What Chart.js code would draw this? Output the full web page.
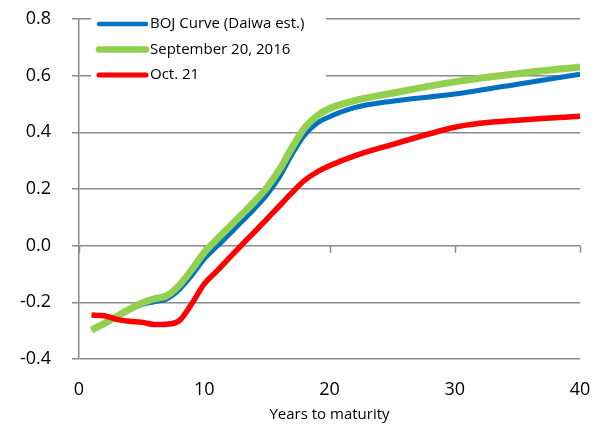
<!DOCTYPE html>
<html>
<head>
<meta charset="utf-8">
<script src="https://cdn.jsdelivr.net/npm/chart.js@4/dist/chart.umd.min.js"></script>
<style>
  html, body { margin: 0; padding: 0; background: #fff; }
  #wrap { width: 603px; height: 425px; position: relative; }
</style>
</head>
<body>
<div id="wrap"><canvas id="c"></canvas></div>
<script>
// JGB yield curves, % by years to maturity
const seriesLabels = ['BOJ Curve (Daiwa est.)', 'September 20, 2016', 'Oct. 21'];

const bojYears = [1, 2, 3, 4, 5, 6, 7, 8, 9, 10, 11, 12, 13, 14, 15, 16, 17, 18, 19, 20, 22, 25, 30, 35, 40];
const bojCurve = [-0.297, -0.275, -0.25, -0.227, -0.208, -0.198, -0.188, -0.155, -0.105, -0.047, -0.003, 0.04, 0.085, 0.13, 0.18, 0.243, 0.322, 0.39, 0.432, 0.455, 0.487, 0.51, 0.535, 0.57, 0.605];

const sep20Years = [1, 2, 3, 4, 5, 6, 7, 8, 9, 10, 11, 12, 13, 14, 15, 16, 17, 18, 19, 20, 22, 25, 30, 35, 40];
const sep20Curve = [-0.298, -0.275, -0.25, -0.225, -0.203, -0.188, -0.177, -0.14, -0.085, -0.024, 0.022, 0.066, 0.11, 0.155, 0.205, 0.268, 0.345, 0.415, 0.458, 0.484, 0.512, 0.538, 0.578, 0.607, 0.631];

const oct21Years = [1, 2, 3, 4, 5, 6, 7, 8, 9, 10, 11, 12, 13, 14, 15, 16, 17, 18, 19, 20, 22, 25, 28, 30, 32, 35, 40];
const oct21Curve = [-0.245, -0.247, -0.26, -0.267, -0.27, -0.278, -0.277, -0.265, -0.205, -0.135, -0.09, -0.043, 0.003, 0.048, 0.094, 0.14, 0.187, 0.23, 0.26, 0.282, 0.317, 0.357, 0.395, 0.418, 0.432, 0.443, 0.457];

const xTicks = [0, 10, 20, 30, 40];
const yTicks = [-0.4, -0.2, 0.0, 0.2, 0.4, 0.6, 0.8];

const colors = ['#0070C0', '#92D050', '#FF0000'];
const widths = [5, 7, 5.5];
const legendWidths = [4.5, 6.5, 5];
const GRID = '#8a8a8a';
const FONT = '"Open Sans", Lato, sans-serif';

function toPoints(xs, ys) {
  return xs.map((x, i) => ({ x: x, y: ys[i] }));
}

// axes keep the plot rectangle fixed: no extra room for edge labels
function noEdgePadding(scale) {
  scale.paddingTop = 0;
  scale.paddingBottom = 0;
  scale.paddingLeft = 0;
  scale.paddingRight = 0;
}

// white legend box over the top-left of the plot
const legendBox = {
  id: 'legendBox',
  beforeDatasetsDraw(chart) {
    const ctx = chart.ctx;
    ctx.save();
    ctx.fillStyle = '#fff';
    ctx.fillRect(91, 4, 235, 88);
    ctx.font = '15px ' + FONT;
    ctx.textBaseline = 'middle';
    ctx.textAlign = 'left';
    ctx.lineCap = 'round';
    chart.data.datasets.forEach((ds, i) => {
      const y = 24 + i * 25.5;
      ctx.strokeStyle = ds.borderColor;
      ctx.lineWidth = legendWidths[i];
      ctx.beginPath();
      ctx.moveTo(99, y);
      ctx.lineTo(146, y);
      ctx.stroke();
      ctx.fillStyle = '#000';
      ctx.fillText(ds.label, 150, y);
    });
    ctx.restore();
  }
};

// x axis line sits on the zero level, with short tick marks below it
const zeroAxis = {
  id: 'zeroAxis',
  beforeDatasetsDraw(chart) {
    const ctx = chart.ctx;
    const xs = chart.scales.x, ys = chart.scales.y;
    const y0 = ys.getPixelForValue(0);
    ctx.save();
    ctx.strokeStyle = GRID;
    ctx.lineWidth = 1.5;
    ctx.beginPath();
    xTicks.forEach(v => {
      const px = Math.round(xs.getPixelForValue(v)) + 0.5;
      ctx.moveTo(px, y0);
      ctx.lineTo(px, y0 + 7);
    });
    ctx.stroke();
    ctx.restore();
  }
};

new Chart(document.getElementById('c'), {
  type: 'line',
  data: {
    datasets: [
      { label: seriesLabels[0], data: toPoints(bojYears, bojCurve), borderColor: colors[0], borderWidth: widths[0], order: 3 },
      { label: seriesLabels[1], data: toPoints(sep20Years, sep20Curve), borderColor: colors[1], borderWidth: widths[1], order: 2 },
      { label: seriesLabels[2], data: toPoints(oct21Years, oct21Curve), borderColor: colors[2], borderWidth: widths[2], order: 1 }
    ]
  },
  options: {
    responsive: true,
    maintainAspectRatio: false,
    animation: false,
    devicePixelRatio: 1,
    layout: { padding: { left: 0, right: 23, top: 19, bottom: 0 } },
    elements: {
      point: { radius: 0 },
      line: { cubicInterpolationMode: 'monotone', fill: false, borderCapStyle: 'butt' }
    },
    plugins: {
      legend: { display: false },
      tooltip: { enabled: false }
    },
    scales: {
      x: {
        type: 'linear',
        min: 0,
        max: 40,
        afterBuildTicks(scale) { scale.ticks = xTicks.map(v => ({ value: v })); },
        afterFit(scale) { scale.height = 66; noEdgePadding(scale); },
        grid: { display: false, drawTicks: false },
        border: { display: false },
        ticks: { color: '#000', font: { family: FONT, size: 18 }, padding: 20, maxRotation: 0 },
        title: { display: true, text: 'Years to maturity', color: '#000', font: { family: FONT, size: 15 }, padding: { top: 0, bottom: 1 } }
      },
      y: {
        min: -0.4,
        max: 0.8,
        afterBuildTicks(scale) { scale.ticks = yTicks.map(v => ({ value: v })); },
        afterFit(scale) { scale.width = 79; noEdgePadding(scale); },
        grid: { color: GRID, lineWidth: 1.5, tickLength: 7, drawTicks: true },
        border: { display: true, color: GRID, width: 1.5 },
        ticks: {
          color: '#000',
          font: { family: FONT, size: 18 },
          padding: 21,
          callback: v => Number(v).toFixed(1)
        }
      }
    }
  },
  plugins: [zeroAxis, legendBox]
});
</script>
</body>
</html>
